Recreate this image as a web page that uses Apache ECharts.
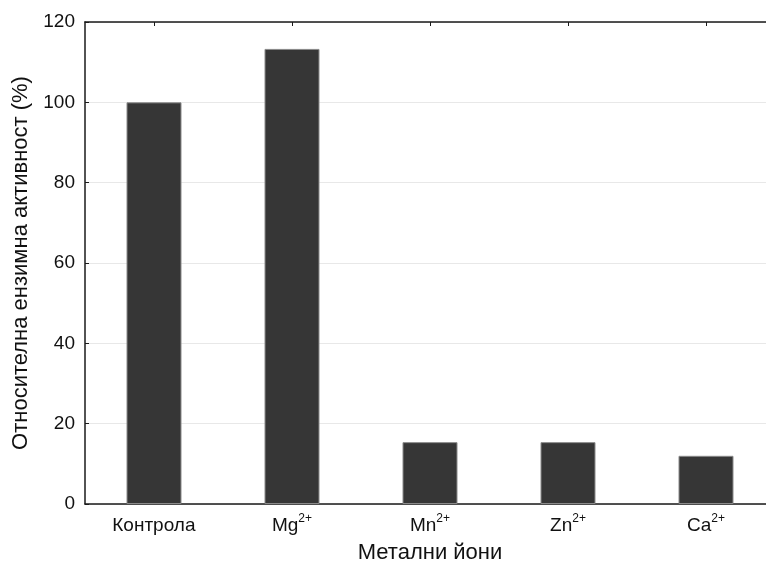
<!DOCTYPE html>
<html>
<head>
<meta charset="utf-8">
<script src="https://cdn.jsdelivr.net/npm/echarts@6/dist/echarts.min.js"></script>
<style>
  html, body { margin: 0; padding: 0; background: #fff; }
  #chart { width: 766px; height: 565px; }
</style>
</head>
<body>
<div id="chart"></div>
<script>
// Metal ions tested and the relative enzyme activity measured for each
const categories = ['Контрола', 'Mg', 'Mn', 'Zn', 'Ca'];
const ionCharges = ['', '2+', '2+', '2+', '2+'];
const activity = [100, 113.3, 15.4, 15.4, 12.0];
const yTicks = [0, 20, 40, 60, 80, 100, 120];

const chart = echarts.init(document.getElementById('chart'));
const font = 'Liberation Sans, Arial, sans-serif';

chart.setOption({
  animation: false,
  // plot area runs past the right edge of the canvas
  grid: { left: 85, top: 22, width: 690, height: 482, containLabel: false, outerBoundsMode: 'none' },
  xAxis: [{
    type: 'category',
    data: categories,
    position: 'bottom',
    name: 'Метални йони',
    nameLocation: 'middle',
    nameGap: 38,
    nameTextStyle: { fontFamily: font, fontSize: 22, color: '#111' },
    axisLine: { show: true, lineStyle: { color: '#1a1a1a', width: 1.5 } },
    axisTick: { show: true, inside: true, alignWithLabel: true, length: 4, lineStyle: { color: '#1a1a1a' } },
    axisLabel: {
      interval: 0,
      hideOverlap: false,
      margin: 9,
      fontFamily: font,
      fontSize: 19,
      color: '#111',
      // ion name with its charge as a raised superscript; the control keeps the same line box
      formatter: function (v, i) {
        const c = ionCharges[i];
        return c ? '{b|' + v + '}{s|' + c + '}' : '{b|' + v + '}{e|\u00a0}';
      },
      rich: {
        b: { fontFamily: font, fontSize: 19, color: '#111', verticalAlign: 'bottom' },
        s: { fontFamily: font, fontSize: 12, color: '#111', verticalAlign: 'top', padding: [0, 0, 10, 0] },
        e: { fontFamily: font, fontSize: 1, color: '#fff', verticalAlign: 'top', padding: [0, 0, 21, 0] }
      }
    }
  }, {
    type: 'category',
    data: categories,
    position: 'top',
    axisLine: { show: true, lineStyle: { color: '#1a1a1a', width: 1.5 } },
    axisTick: { show: true, inside: true, alignWithLabel: true, interval: 0, length: 4, lineStyle: { color: '#1a1a1a' } },
    axisLabel: { show: false }
  }],
  yAxis: {
    type: 'value',
    min: yTicks[0],
    max: yTicks[yTicks.length - 1],
    interval: 20,
    name: 'Относителна ензимна активност (%)',
    nameLocation: 'middle',
    nameGap: 52,
    nameTextStyle: { fontFamily: font, fontSize: 22, color: '#111' },
    axisLine: { show: true, lineStyle: { color: '#1a1a1a', width: 1.5 } },
    axisTick: { show: true, inside: true, length: 4, lineStyle: { color: '#1a1a1a' } },
    axisLabel: { margin: 10, fontFamily: font, fontSize: 19, color: '#111' },
    splitLine: { show: true, lineStyle: { color: '#e8e8e8', width: 1 } }
  },
  series: [{
    type: 'bar',
    data: activity,
    barWidth: 55,
    itemStyle: { color: '#363636', borderColor: '#8a8a8a', borderWidth: 1 }
  }]
});
</script>
</body>
</html>
